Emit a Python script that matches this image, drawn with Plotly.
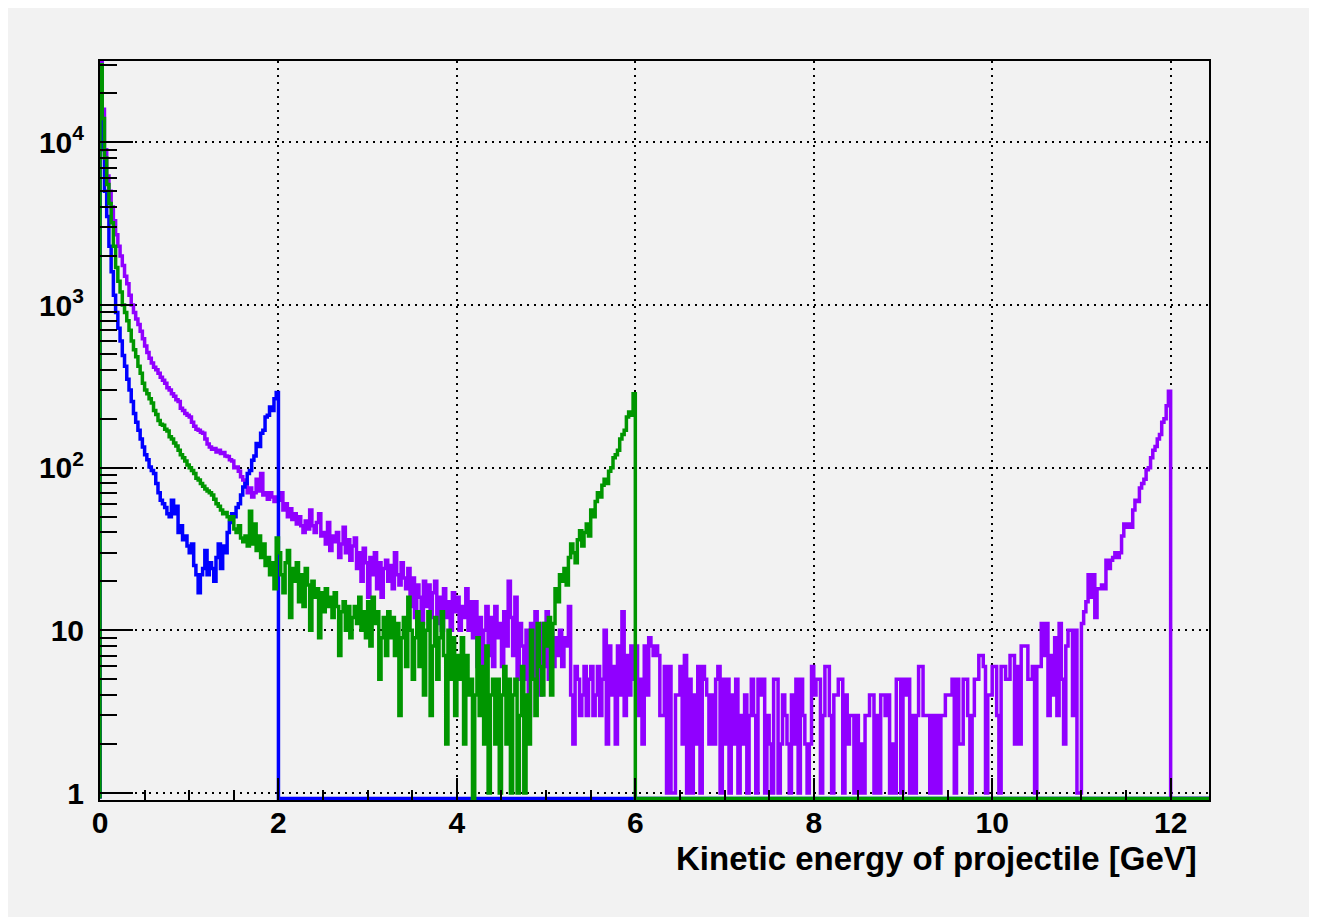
import numpy as np
import plotly.graph_objects as go

# ---------------- data (counts per 0.025 GeV bin) ----------------
bin_width = 0.025

blue_counts = [
    30000, 9000, 5000, 3500, 2300, 1600, 1150, 900, 720, 600,
    490, 420, 350, 300, 255, 215, 190, 170, 150, 134,
    120, 112, 101, 96, 92, 80, 70, 63, 60, 57,
    52, 50, 63, 52, 58, 40, 44, 36, 38, 33,
    30, 34, 25, 22, 17, 22, 24, 31, 22, 26,
    24, 20, 28, 34, 24, 33, 30, 40, 46, 52,
    50, 57, 60, 68, 76, 80, 92, 96, 111, 118,
    141, 135, 163, 170, 205, 210, 236, 225, 265, 290,
]

green_counts = [
    30000, 14000, 8000, 5500, 4200, 3200, 2300, 1700, 1400, 1200,
    1000, 900, 800, 700, 600, 530, 480, 420, 380, 330,
    300, 285, 265, 250, 225, 212, 195, 185, 182, 172,
    168, 155, 150, 142, 136, 128, 120, 115, 110, 104,
    100, 96, 92, 86, 84, 80, 77, 74, 72, 70,
    68, 64, 60, 58, 55, 52, 53, 50, 48, 50,
    42, 40, 44, 37, 35, 38, 33, 54, 34, 45,
    31, 38, 28, 34, 25, 28, 22, 26, 18, 37,
    30, 22, 17, 26, 31, 12, 24, 20, 26, 15,
    22, 14, 24, 19, 10, 20, 16, 18, 9, 17,
    13, 18, 14, 16, 12, 17, 14, 7, 13, 15,
    10, 14, 9, 12, 14, 11, 16, 10, 13, 9,
    15, 8, 16, 11, 13, 5, 9, 12, 7, 13,
    9, 12, 7, 11, 3, 9, 12, 6, 16, 10,
    5, 9, 13, 6, 11, 4, 10, 13, 3, 8,
    12, 5, 9, 13, 7, 2, 10, 5, 9, 3,
    7, 5, 9, 2, 7, 4, 5, 0, 4, 9,
    3, 6, 2, 8, 1, 4, 5, 2, 5, 1,
    4, 6, 2, 5, 1, 4, 5, 1, 3, 6,
    1, 4, 2, 10, 5, 3, 11, 6, 4, 11,
    8, 12, 4, 11, 18, 15, 22, 20, 24, 19,
    28, 34, 30, 26, 36, 41, 33, 40, 45, 38,
    55, 50, 62, 70, 66, 78, 85, 80, 95, 100,
    115, 120, 128, 150, 160, 170, 205, 220, 210, 285,
]

purple_counts = [
    31000, 16000, 9000, 6200, 5000, 4000, 3300, 2700, 2300, 2000,
    1750, 1500, 1350, 1150, 1000, 900, 820, 760, 690, 620,
    560, 510, 470, 440, 415, 400, 380, 360, 345, 330,
    310, 300, 285, 275, 262, 255, 232, 225, 215, 210,
    205, 190, 180, 172, 170, 165, 163, 150, 140, 134,
    130, 131, 125, 128, 122, 124, 118, 117, 112, 110,
    100, 101, 95, 88, 84, 80, 70, 75, 66, 70,
    85, 72, 92, 68, 70, 64, 70, 66, 62, 66,
    63, 70, 55, 60, 50, 56, 48, 52, 45, 50,
    44, 40, 47, 42, 55, 44, 40, 46, 52, 38,
    40, 34, 46, 31, 38, 35, 40, 28, 34, 43,
    30, 36, 27, 33, 37, 24, 30, 20, 32, 26,
    16, 28, 22, 30, 18, 26, 16, 24, 27, 20,
    25, 18, 30, 22, 19, 26, 21, 18, 24, 14,
    21, 12, 19, 16, 11, 20, 14, 19, 12, 17,
    20, 11, 16, 10, 18, 12, 15, 10, 17, 13,
    16, 10, 14, 12, 18, 10, 15, 9, 15, 6,
    12, 5, 10, 14, 7, 12, 6, 14, 9, 11,
    6, 13, 8, 20, 12, 7, 16, 5, 11, 8,
    5, 10, 3, 11, 5, 13, 8, 4, 11, 6,
    13, 5, 10, 6, 9, 7, 10, 6, 9, 8,
    14, 4, 2, 6, 5, 3, 4, 6, 3, 5,
    6, 3, 4, 6, 3, 5, 10, 2, 8, 4,
    6, 2, 8, 4, 13, 3, 7, 4, 8, 5,
    8, 3, 5, 2, 8, 4, 9, 8, 7, 8,
    7, 3, 3, 6, 1, 6, 1, 1, 4, 4,
    6, 2, 7, 1, 5, 1, 4, 2, 6, 1,
    6, 5, 4, 2, 4, 2, 5, 6, 1, 5,
    2, 5, 1, 4, 2, 5, 1, 3, 2, 4,
    1, 3, 5, 3, 1, 5, 4, 5, 1, 3,
    2, 1, 5, 5, 1, 2, 4, 3, 2, 1,
    4, 2, 5, 1, 5, 3, 2, 1, 2, 6,
    4, 5, 5, 1, 3, 6, 6, 3, 1, 4,
    4, 5, 5, 1, 4, 2, 3, 3, 1, 3,
    1, 2, 1, 3, 3, 4, 4, 1, 3, 1,
    4, 4, 3, 4, 1, 2, 1, 5, 5, 1,
    5, 4, 5, 1, 3, 1, 3, 6, 6, 3,
    3, 3, 1, 3, 1, 3, 1, 3, 3, 4,
    4, 4, 5, 1, 5, 2, 2, 5, 5, 3,
    1, 3, 5, 5, 7, 7, 6, 1, 4, 4,
    6, 6, 3, 1, 6, 6, 5, 5, 7, 7,
    2, 6, 2, 8, 8, 8, 5, 5, 6, 1,
    6, 6, 11, 7, 11, 3, 7, 4, 9, 3,
    11, 5, 2, 8, 10, 10, 3, 10, 1, 1,
    11, 13, 15, 22, 16, 22, 12, 18, 18, 19,
    18, 27, 24, 27, 28, 30, 28, 30, 38, 45,
    43, 45, 43, 55, 63, 62, 75, 80, 85, 97,
    100, 115, 128, 135, 150, 160, 190, 200, 240, 295,
]

x_ticks = [0, 2, 4, 6, 8, 10, 12]
y_tick_vals = [1, 10, 100, 1000, 10000]
y_tick_text = ["1", "10", "10<sup>2</sup>", "10<sup>3</sup>", "10<sup>4</sup>"]
x_title = "Kinetic energy of projectile [GeV]"

# ---------------- styling ----------------
X_MAX = 12.43
Y_LOG_MIN, Y_LOG_MAX = -0.043, 4.5
FLOOR = 10 ** (-0.034)   # empty bins drawn on the frame bottom
BG = "#f2f2f2"
FONT = "Liberation Sans"


def outline(counts):
    """ROOT-like histogram outline: rise from the floor, step, drop, run along the floor."""
    c = np.maximum(np.asarray(counts, dtype=float), FLOOR)
    n = len(c)
    left = np.arange(n) * bin_width
    x = np.concatenate([[0.0], left, [n * bin_width, X_MAX]])
    y = np.concatenate([[FLOOR], c, [FLOOR, FLOOR]])
    return x, y


fig = go.Figure()
for counts, color in [(purple_counts, "#9000ff"),
                      (blue_counts, "#0000ff"),
                      (green_counts, "#009600")]:
    x, y = outline(counts)
    fig.add_trace(go.Scatter(x=x, y=y, mode="lines", line_shape="hv",
                             line=dict(color=color, width=3.5),
                             hoverinfo="skip", showlegend=False))

tickfont = dict(family=FONT, size=30, color="black", weight="bold")

fig.update_xaxes(
    range=[0, X_MAX], tickvals=x_ticks, ticks="inside", ticklen=22,
    tickwidth=1.5, tickcolor="black", tickfont=tickfont,
    ticklabelstandoff=-5,
    showline=True, linecolor="black", linewidth=2, mirror=True,
    showgrid=True, gridcolor="black", gridwidth=1.5, griddash="2px,5px",
    zeroline=False,
    minor=dict(dtick=0.5, ticks="inside", ticklen=10, tickwidth=1.5,
               tickcolor="black", showgrid=False),
)
minor_y = [m * 10 ** d for d in range(0, 5) for m in range(2, 10)]
fig.update_yaxes(
    type="log", range=[Y_LOG_MIN, Y_LOG_MAX],
    tickvals=y_tick_vals, ticktext=y_tick_text,
    ticks="inside", ticklen=33, tickwidth=1.5, tickcolor="black",
    tickfont=tickfont, ticklabelstandoff=8,
    showline=True, linecolor="black", linewidth=2, mirror=True,
    showgrid=True, gridcolor="black", gridwidth=1.5, griddash="2px,5px",
    zeroline=False,
    minor=dict(tickmode="array", tickvals=minor_y, ticks="inside", ticklen=17,
               tickwidth=1.5, tickcolor="black", showgrid=False),
)

fig.add_annotation(
    text=x_title, xref="paper", yref="paper",
    x=0.9914, y=-0.079, xanchor="right", yanchor="middle", showarrow=False,
    font=dict(family=FONT, size=33, color="black", weight="bold"),
)

fig.update_layout(
    width=1309, height=909,
    margin=dict(l=92, r=108, t=53, b=117, pad=0),
    paper_bgcolor=BG, plot_bgcolor=BG,
    showlegend=False,
)

fig.write_html("out.html")
